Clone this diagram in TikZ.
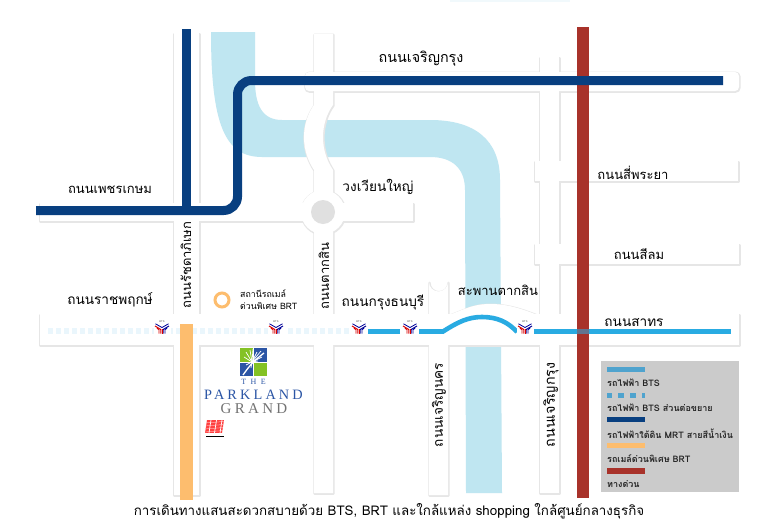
\documentclass[tikz,border=0pt]{standalone}
\usepackage{fontspec}
\setmainfont{Liberation Sans}
\newfontfamily\thaifont[Script=Thai]{Loma}
\newfontfamily\serifcaps[LetterSpace=22]{Liberation Serif}
\definecolor{riverc}{HTML}{BFE6F1}
\definecolor{mrtc}{HTML}{083F80}
\definecolor{expc}{HTML}{A8322A}
\definecolor{brtc}{HTML}{FDBD6E}
\definecolor{btsc}{HTML}{29ABE2}
\definecolor{btslegend}{HTML}{4FA3CE}
\definecolor{extc}{HTML}{EAF6FC}
\definecolor{legendbg}{HTML}{CBCBCB}
\definecolor{roadedge}{HTML}{E6E6E6}
\definecolor{logogreen}{HTML}{84C225}
\definecolor{logoblue}{HTML}{2B55A5}
\tikzset{
  roadshadow/.style={draw=roadedge,fill=roadedge,line width=2.2pt,line join=round,shift={(0.5,0.7)}},
  roadface/.style={fill=white,draw=none},
  lbl/.style={font=\thaifont\fontsize{13}{15}\selectfont,text=black,inner sep=0pt},
  lblb/.style={lbl,font=\thaifont\fontsize{13.6}{15}\selectfont},
  lblc/.style={lbl,font=\thaifont\fontsize{14.3}{15}\selectfont},
  leg/.style={font=\thaifont\bfseries\fontsize{9}{11}\selectfont,text=black!85,inner sep=0pt,anchor=west},
  swatch/.style={line width=5pt},
  mrtline/.style={draw=mrtc,line width=9pt},
  btsline/.style={draw=btsc,line width=4.6pt}
}
\newcommand{\roadpieces}[1]{
  \path[#1] (174,33) rectangle (199,495);
  \path[#1] (540,57) rectangle (559,493);
  \path[#1] (40,203) rectangle (413,221);
  \path[#1,rounded corners=4pt] (305,72) rectangle (739,91);
  \path[#1] (535,161) rectangle (738,181);
  \path[#1] (535,244) rectangle (739,264);
  \path[#1] (40,314) rectangle (739,345);
  \path[#1] (429,282) arc[start angle=180,end angle=0,radius=9.5] -- (448,495) -- (429,495) -- cycle;
  \path[#1] (323,212) circle[radius=22];
  \path[#1] (314,34) -- (333,34) -- (333,105) .. controls (327,113) and (323,125) .. (323,137)
     .. controls (323,150) and (327,161) .. (333,170) -- (333,493) -- (314,493) -- (314,170)
     .. controls (308,161) and (304,150) .. (304,137) .. controls (304,125) and (308,113) .. (314,105) -- cycle;
  \path[#1] (440,318) .. controls (460,312) and (470,304) .. (490,304) .. controls (510,304) and (525,310) .. (545,318)
     -- (522,343) .. controls (512,339) and (505,334) .. (490,334) .. controls (470,334) and (462,339) .. (445,343) -- cycle;
}
\newcommand{\btslogo}[3]{%
  \node[inner sep=0pt,minimum size=0pt] (#1) at (#2,#3) {};
  \begin{scope}[shift={(#1)}]
    \fill[white] (-8.5,-7) rectangle (8.5,7);
    \node[inner sep=0pt,font=\fontsize{2.6}{3}\selectfont,text=black!70] at (0,-5.7) {BTS};
    \draw[blue!60!black,line width=.8pt] (-6.5,-3.2) -- (0,.5) -- (6.5,-3.2);
    \draw[red!85!black,line width=1pt] (-7,-1) -- (-1.2,2.5) -- (-1.2,6.5);
    \draw[blue!60!black,line width=1pt] (7,-1) -- (1.2,2.5) -- (1.2,6.5);
    \draw[red!85!black,line width=.9pt] (-5,1.2) -- (-3,2.7) -- (-3,6.5);
    \draw[red!85!black,line width=.9pt] (0,2) -- (0,6.5);
    \draw[blue!60!black,line width=.9pt] (5,1.2) -- (3,2.7) -- (3,6.5);
  \end{scope}
}
\begin{document}
\begin{tikzpicture}[x=1pt,y=-1pt]
\useasboundingbox (0,0) rectangle (762,530);
\fill[white] (0,0) rectangle (762,530);
% faint strip at the very top
\fill[riverc!22] (450,0) rectangle (570,2);
% river
\path[fill=riverc] (211,32) -- (255,32) -- (255,80)
  .. controls (255,105) and (262,120) .. (282,120)
  -- (430,120) .. controls (475,120) and (500,140) .. (500,180)
  -- (502,493) -- (466,493) -- (465,190)
  .. controls (465,168) and (452,157) .. (430,157)
  -- (262,157) .. controls (225,157) and (211,125) .. (211,32) -- cycle;
% roads
\roadpieces{roadshadow}
\roadpieces{roadface}
\fill[black!12] (323,212) circle[radius=12];
% lines
\draw[extc,line width=6pt,dash pattern=on 5pt off 3pt] (48,331) -- (350,331);
\draw[btsline] (367,331.5) -- (400,331.5);
\draw[btsline] (418,331.5) -- (443,331.5) .. controls (458,322) and (468,317) .. (482,317) .. controls (497,317) and (508,322) .. (517,332);
\draw[btsline] (533,331.5) -- (731,331.5);
\draw[expc,line width=12pt] (583,27) -- (583,498);
\draw[btsc,line width=4.6pt,opacity=.55] (577,331.5) -- (589,331.5);
\draw[brtc,line width=13pt] (186.5,324) -- (186.5,500);
\draw[mrtline] (186.5,29) -- (186.5,210.5);
\draw[mrtline,rounded corners=14pt] (36,210.5) -- (237.5,210.5) -- (237.5,80.5) -- (723,80.5);
% BTS logos
\btslogo{bA}{162}{327}
\btslogo{bB}{276}{327}
\btslogo{bC}{359}{327}
\btslogo{bD}{410}{327}
\btslogo{bE}{525}{327}
% road labels
\node[lblc] (t1) at (421,59) {ถนนเจริญกรุง};
\node[lbl] (t2) at (110,190) {ถนนเพชรเกษม};
\node[lblb] (t3) at (378,187) {วงเวียนใหญ่};
\node[lbl] (t4) at (633,173) {ถนนสี่พระยา};
\node[lbl] (t5) at (639,254) {ถนนสีลม};
\node[lblb] (t6) at (110,300) {ถนนราชพฤกษ์};
\node[lblb] (t7) at (383,303) {ถนนกรุงธนบุรี};
\node[lbl] (t8) at (498,290) {สะพานตากสิน};
\node[lblb] (t9) at (634,323) {ถนนสาทร};
\node[lbl,rotate=90] (t10) at (186,265) {ถนนรัชดาภิเษก};
\node[lbl,rotate=90] (t11) at (324,276) {ถนนตากสิน};
\node[lblb,rotate=90] (t12) at (439,405) {ถนนเจริญนคร};
\node[lblc,rotate=90] (t13) at (551,405) {ถนนเจริญกรุง};
% BRT station
\draw[brtc,line width=3pt] (222,300) circle[radius=7];
\node[lbl,font=\thaifont\fontsize{8.8}{12}\selectfont,align=left,anchor=west] (st) at (240,299.5) {สถานีรถเมล์\\ด่วนพิเศษ BRT};
% Parkland logo
\fill[logogreen] (240,348) rectangle (253,361.5);
\fill[logoblue] (254,348) rectangle (267,361.5);
\fill[logoblue] (240,362.5) rectangle (253,376);
\fill[logogreen] (254,362.5) rectangle (267,376);
\draw[white,line width=1.3pt] (243,375) .. controls (248,368) and (252,362) .. (264,353);
\foreach \a/\b in {246/352,250/350,253/349,257/352,261/351,244/357,243/362,246/365,251/368,258/361,262/357}{
  \draw[white,line width=.7pt] (252,362) -- (\a,\b);}
\node[inner sep=0pt,font=\serifcaps\fontsize{8}{9}\selectfont,text=logoblue] (pk0) at (253.5,382) {T\;\;H\;\;E};
\node[inner sep=0pt,font=\serifcaps\fontsize{14.3}{15}\selectfont,text=logoblue] (pk1) at (253.5,394.5) {PARKLAND};
\node[inner sep=0pt,font=\serifcaps\fontsize{15}{15}\selectfont,text=black!55] (pk2) at (254,408.5) {GRAND};
% red mark
\begin{scope}
\clip (207,420) -- (224,420) -- (222,433) -- (205,433) -- cycle;
\fill[red!75] (205,420) rectangle (224,433);
\foreach \x in {211,216.5,222}{\draw[white,line width=.7pt] (\x,420) -- (\x-2,433);}
\foreach \y in {423,426,429,432}{\draw[white,line width=.25pt] (205,\y) -- (224,\y-1.5);}
\end{scope}
\draw[black,line width=.6pt] (206,436.5) -- (224,436.5);
% legend
\fill[legendbg] (601,361) rectangle (739,492);
\draw[swatch,btslegend] (607,369) -- (645,369);
\draw[swatch,btslegend,dash pattern=on 6pt off 6pt,dash phase=1pt] (607,395) -- (645,395);
\draw[swatch,mrtc] (607,419.7) -- (645,419.7);
\draw[swatch,brtc] (607,445.2) -- (645,445.2);
\draw[line width=6pt,expc] (607,470.7) -- (645,470.7);
\node[leg] (l1) at (607,382.7) {รถไฟฟ้า BTS};
\node[leg] (l2) at (607,408) {รถไฟฟ้า BTS ส่วนต่อขยาย};
\node[leg] (l3) at (607,434) {รถไฟฟ้าใต้ดิน MRT สายสีน้ำเงิน};
\node[leg] (l4) at (607,458.6) {รถเมล์ด่วนพิเศษ BRT};
\node[leg] (l5) at (607,484) {ทางด่วน};
% caption
\node[lbl,font=\thaifont\fontsize{13.35}{16}\selectfont] (cap) at (389,511) {การเดินทางแสนสะดวกสบายด้วย BTS, BRT และใกล้แหล่ง shopping ใกล้ศูนย์กลางธุรกิจ};
\end{tikzpicture}
\end{document}
